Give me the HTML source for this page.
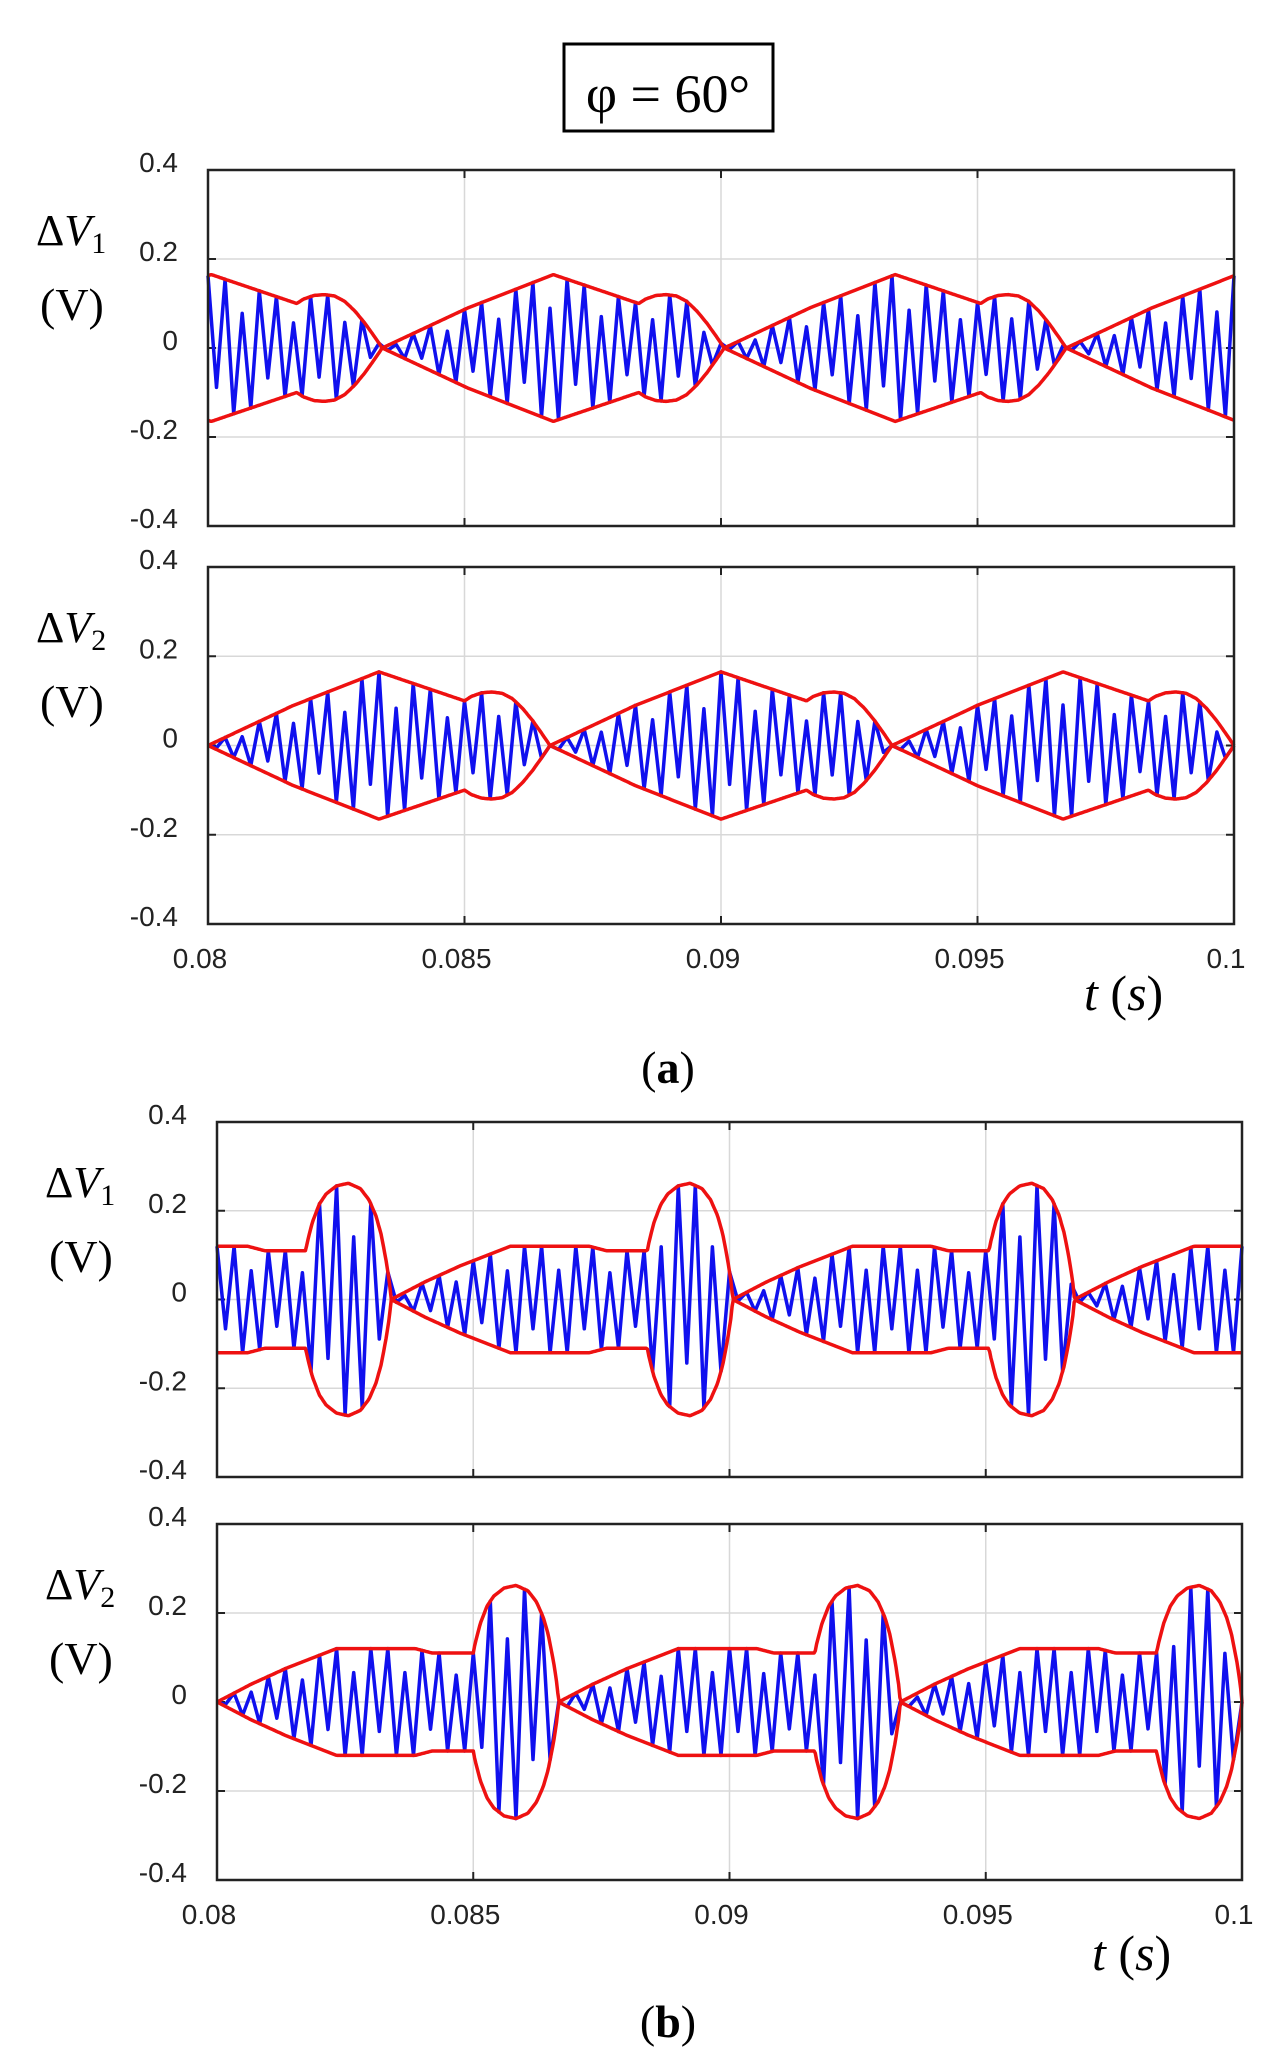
<!DOCTYPE html>
<html><head><meta charset="utf-8"><style>
html,body{margin:0;padding:0;background:#fff;}
svg{display:block;}
.tk{font-family:"Liberation Sans",sans-serif;font-size:28px;fill:#222;}
.sf{font-family:"Liberation Serif",serif;fill:#000;}
</style></head><body>
<svg id="fig" width="1280" height="2059" viewBox="0 0 1280 2059" xmlns="http://www.w3.org/2000/svg">
<rect x="564" y="44" width="209" height="87" fill="#fff" stroke="#000" stroke-width="3"/>
<text class="sf" x="668" y="112" font-size="54" text-anchor="middle">φ = 60°</text>
<text class="sf" x="668" y="1083" font-size="46" text-anchor="middle">(<tspan font-weight="bold">a</tspan>)</text>
<text class="sf" x="668" y="2037" font-size="46" text-anchor="middle">(<tspan font-weight="bold">b</tspan>)</text>
<g id="plots"></g>
</svg>
<script>
// time axis
const tStart = 0.08, tEnd = 0.1;
const xTicks = [0.08, 0.085, 0.09, 0.095, 0.1];
const xTickLabels = ["0.08", "0.085", "0.09", "0.095", "0.1"];
const yTicks = [0.4, 0.2, 0, -0.2, -0.4];
const yTickLabels = ["0.4", "0.2", "0", "-0.2", "-0.4"];
const period = 1 / 150;
// envelope shape for one cycle, (a) case: phase fractions and amplitudes (V)
const envAPhase = [0, 0.25, 0.5, 0.75, 0.77, 0.8, 0.83, 0.86, 0.89, 0.92, 0.95, 0.975, 1];
const envAValue = [0, 0.09, 0.165, 0.1, 0.11, 0.118, 0.12, 0.117, 0.105, 0.083, 0.055, 0.028, 0];
// envelope shape for one cycle, (b) case
const envBPhase = [0, 0.1, 0.2, 0.3, 0.35, 0.5, 0.58, 0.63, 0.75, 0.755, 0.77, 0.79, 0.81, 0.84, 0.875, 0.91, 0.935, 0.955, 0.97, 0.985, 0.995, 1];
const envBValue = [0, 0.04, 0.075, 0.105, 0.12, 0.12, 0.12, 0.11, 0.11, 0.13, 0.175, 0.215, 0.238, 0.256, 0.262, 0.25, 0.225, 0.19, 0.15, 0.09, 0.04, 0];
// cycle start times per panel
const cycleStartA1 = 0.07673, cycleStartA2 = 0.08;
const cycleStartB1 = 0.07673, cycleStartB2 = 0.08;
const oscPerCycle = 20;

const panels = [
  {name:"a1", x0:208, x1:1234, y0:170, y1:526, ph:envAPhase, val:envAValue, start:cycleStartA1, lab:"1", ly:225, xt:false},
  {name:"a2", x0:208, x1:1234, y0:567, y1:924, ph:envAPhase, val:envAValue, start:cycleStartA2, lab:"2", ly:622, xt:true, xty:968, tsy:990},
  {name:"b1", x0:217, x1:1242, y0:1122, y1:1477, ph:envBPhase, val:envBValue, start:cycleStartB1, lab:"1", ly:1177, xt:false},
  {name:"b2", x0:217, x1:1242, y0:1524, y1:1880, ph:envBPhase, val:envBValue, start:cycleStartB2, lab:"2", ly:1579, xt:true, xty:1924, tsy:1950}
];
const NS = "http://www.w3.org/2000/svg";
const root = document.getElementById("plots");
function mk(tag, attrs, parent){const e=document.createElementNS(NS,tag);for(const k in attrs)e.setAttribute(k,attrs[k]);parent.appendChild(e);return e;}
function env(p, t){
  let ph = ((t - p.start) / period) % 1; if (ph < 0) ph += 1;
  for (let i = 1; i < p.ph.length; i++) {
    if (ph <= p.ph[i]) { const f = (ph - p.ph[i-1]) / (p.ph[i] - p.ph[i-1]); return p.val[i-1] + f * (p.val[i] - p.val[i-1]); }
  }
  return p.val[p.val.length-1];
}
panels.forEach(p => {
  const X = t => p.x0 + (t - tStart) / (tEnd - tStart) * (p.x1 - p.x0);
  const Y = v => p.y0 + (0.4 - v) / 0.8 * (p.y1 - p.y0);
  const g = mk("g", {}, root);
  
  
  xTicks.forEach((t, i) => {
    if (i > 0 && i < xTicks.length - 1) {
      const l = mk("line", {x1:X(t), x2:X(t), y1:p.y0, y2:p.y1, stroke:"#d8d8d8", "stroke-width":1.5}, g);
      
      
      mk("line", {x1:X(t), x2:X(t), y1:p.y0, y2:p.y0+8, stroke:"#222", "stroke-width":2}, g);
      mk("line", {x1:X(t), x2:X(t), y1:p.y1, y2:p.y1-8, stroke:"#222", "stroke-width":2}, g);
    }
    if (p.xt) {
      const tx = mk("text", {class:"tk", x:X(t) - 8, y:p.xty, "text-anchor":"middle"}, g);
      tx.textContent = xTickLabels[i];
      
      
    }
  });
  yTicks.forEach((v, i) => {
    if (i > 0 && i < yTicks.length - 1) {
      const l = mk("line", {x1:p.x0, x2:p.x1, y1:Y(v), y2:Y(v), stroke:"#d8d8d8", "stroke-width":1.5}, g);
      
      
      mk("line", {x1:p.x0, x2:p.x0+8, y1:Y(v), y2:Y(v), stroke:"#222", "stroke-width":2}, g);
      mk("line", {x1:p.x1, x2:p.x1-8, y1:Y(v), y2:Y(v), stroke:"#222", "stroke-width":2}, g);
    }
    const tx = mk("text", {class:"tk", x:p.x0 - 30, y:Y(v) + 2, "text-anchor":"end"}, g);
    tx.textContent = yTickLabels[i];
    
    
  });
  // blue oscillation
  const n = Math.round((tEnd - tStart) / period * oscPerCycle * 2);
  let d = "";
  for (let k = 0; k <= n; k++) {
    const t = tStart + k * (tEnd - tStart) / n;
    const s = (k % 2 === 0 ? 1 : -1) * (k % 3 === 1 ? 0.55 : 1);
    d += (k ? "L" : "M") + X(t).toFixed(1) + "," + Y(s * env(p, t)).toFixed(1);
  }
  const bl = mk("path", {d:d, fill:"none", stroke:"#1010ee", "stroke-width":3.5, "stroke-linejoin":"round"}, g);
  
  
  // envelopes
  [1, -1].forEach(sg => {
    let e = "";
    for (let k = 0; k <= 800; k++) {
      const t = tStart + k * (tEnd - tStart) / 800;
      e += (k ? "L" : "M") + X(t).toFixed(1) + "," + Y(sg * env(p, t)).toFixed(1);
    }
    const r = mk("path", {d:e, fill:"none", stroke:"#ee1111", "stroke-width":3.5, "stroke-linejoin":"round"}, g);
    
    
  });
  const fr = mk("rect", {x:p.x0, y:p.y0, width:p.x1-p.x0, height:p.y1-p.y0, fill:"none", stroke:"#222", "stroke-width":2.5}, g);
  
  
  const yl = mk("text", {class:"sf", x:p.x0 - 172, y:p.ly + 20, "font-size":44}, g);
  yl.innerHTML = 'Δ<tspan font-style="italic">V</tspan><tspan font-size="30" dy="8">' + p.lab + '</tspan>';
  
  
  const yu = mk("text", {class:"sf", x:p.x0 - 168, y:p.ly + 95, "font-size":46}, g);
  yu.textContent = "(V)";
  
  
  if (p.xt) {
    const ts = mk("text", {class:"sf", x:p.x1 - 150, y:p.tsy + 20, "font-size":50}, g);
    ts.innerHTML = '<tspan font-style="italic">t</tspan> (<tspan font-style="italic">s</tspan>)';
    
    
  }
});
</script>
</body></html>
